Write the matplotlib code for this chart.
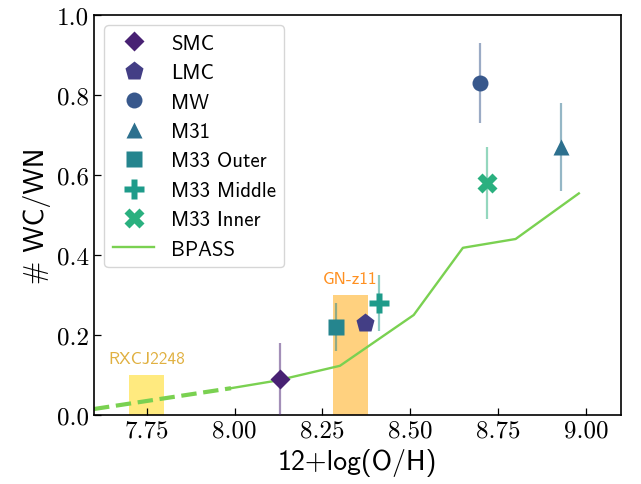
import numpy as np
import matplotlib
matplotlib.use('Agg')
import matplotlib.pyplot as plt

# local galaxies: metallicity and WC/WN ratio
names = ['SMC', 'LMC', 'MW', 'M31', 'M33 Outer', 'M33 Middle', 'M33 Inner']
oh = [8.13, 8.37, 8.70, 8.93, 8.29, 8.41, 8.72]
wcwn = [0.09, 0.23, 0.83, 0.67, 0.22, 0.28, 0.58]
wcwn_err = [0.09, 0.0, 0.10, 0.11, 0.06, 0.07, 0.09]

# BPASS prediction (solid) and low-Z extrapolation (dashed)
bpass_oh = [7.99, 8.12, 8.30, 8.51, 8.65, 8.80, 8.98]
bpass_ratio = [0.067, 0.086, 0.123, 0.25, 0.418, 0.44, 0.554]
bpass_ext_oh = [7.60, 7.99]
bpass_ext_ratio = [0.015, 0.067]

# high-z objects: O/H range and upper ratio
hz_names = ['RXCJ2248', 'GN-z11']
hz_oh_lo = [7.70, 8.28]
hz_oh_hi = [7.80, 8.38]
hz_ratio = [0.10, 0.30]

xticks = [7.75, 8.00, 8.25, 8.50, 8.75, 9.00]
yticks = [0.0, 0.2, 0.4, 0.6, 0.8, 1.0]

plt.rcParams['font.family'] = 'cmss10'
plt.rcParams['axes.linewidth'] = 1.2

markers = ['D', 'p', 'o', '^', 's', 'P', 'X']
msizes = [10, 14, 11.5, 12, 11.5, 14, 15]
bar_z = [3, 3, 3, 3, 5, 3, 3]   # outer M33 bar sits on top of its marker
cols = plt.cm.viridis(np.linspace(0, 1, 12)[1:8])
line_col = plt.cm.viridis(0.8)
hz_fill = ['gold', 'orange']
hz_text = ['#E0B040', '#FF9020']

fig = plt.figure(figsize=(6.41, 4.85), dpi=100)
ax = fig.add_axes([94/641, 1-416/485, 527/641, 400/485])

for i in range(len(hz_names)):
    ax.fill_between([hz_oh_lo[i], hz_oh_hi[i]], 0, hz_ratio[i],
                    color=hz_fill[i], alpha=0.5, lw=0, zorder=1)
    ax.text((hz_oh_lo[i]+hz_oh_hi[i])/2, hz_ratio[i]+0.04, hz_names[i],
            color=hz_text[i], fontsize=12.5, ha='center', va='center')

handles = []
for i in range(len(names)):
    if wcwn_err[i] > 0:
        ax.errorbar(oh[i], wcwn[i], yerr=wcwn_err[i], fmt='none',
                    ecolor=cols[i], alpha=0.5, elinewidth=1.6, zorder=bar_z[i])
    h, = ax.plot(oh[i], wcwn[i], marker=markers[i], ms=msizes[i],
                 color=cols[i], ls='none', mec='none', label=names[i], zorder=4)
    handles.append(h)

ax.plot(bpass_ext_oh, bpass_ext_ratio, ls='--', lw=3, color=line_col, zorder=2)
h, = ax.plot(bpass_oh, bpass_ratio, lw=1.7, color=line_col, label='BPASS', zorder=2)
handles.append(h)

ax.set_xlim(7.6, 9.1)
ax.set_ylim(0, 1.0)
ax.set_xticks(xticks)
ax.set_xticklabels(['%.2f' % v for v in xticks], family='cmr10', fontsize=18)
ax.set_yticks(yticks)
ax.set_yticklabels(['%.1f' % v for v in yticks], family='cmr10', fontsize=18)
ax.tick_params(direction='in', length=5, width=0.9)
ax.set_xlabel('12+log(O/H)', fontsize=20)
ax.set_ylabel('# WC/WN', fontsize=20)

ax.legend(handles=handles, loc='upper left', fontsize=15)

fig.savefig('out.png', dpi=100)
